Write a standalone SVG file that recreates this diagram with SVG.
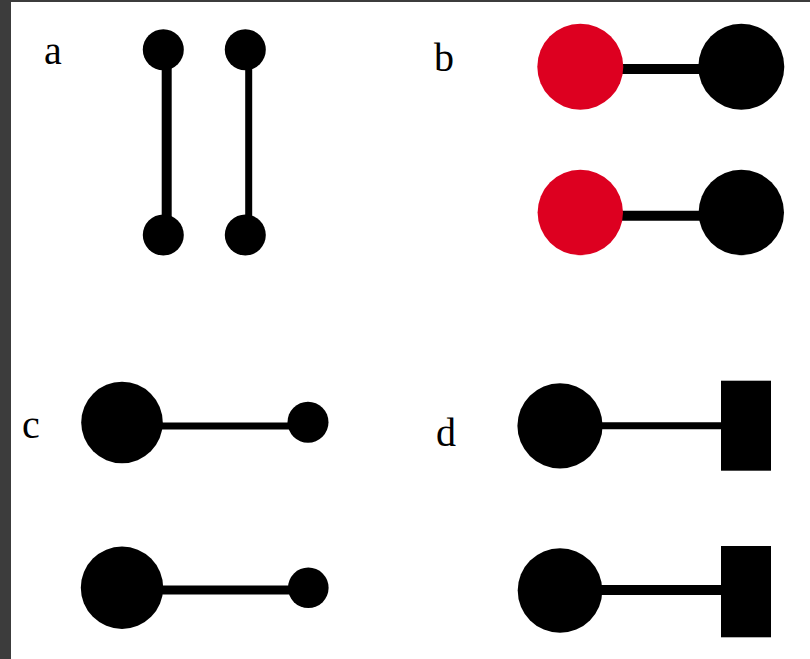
<svg xmlns="http://www.w3.org/2000/svg" width="810" height="659" viewBox="0 0 810 659">
<style>
.lbl{font-family:"Liberation Serif","Times New Roman",serif;font-size:40px;fill:#000}
.blk{fill:#000}
.red{fill:#dd0020}
.ln{stroke:#000;fill:none}
</style>
<rect x="0" y="0" width="810" height="659" fill="#ffffff"/>
<rect x="0" y="0" width="11" height="659" fill="#3c3c3c"/>
<rect x="0" y="0" width="810" height="2" fill="#3c3c3c"/>
<g id="labels">
<text class="lbl" x="44" y="64">a</text>
<text class="lbl" x="434" y="71">b</text>
<text class="lbl" x="22" y="438">c</text>
<text class="lbl" x="436" y="446">d</text>
</g>
<g id="connectors">
<line class="ln" x1="166.7" y1="66" x2="166.7" y2="218" stroke-width="10"/>
<line class="ln" x1="248.7" y1="66" x2="248.7" y2="218" stroke-width="7"/>
<line class="ln" x1="620" y1="69" x2="700" y2="69" stroke-width="10"/>
<line class="ln" x1="620" y1="215.7" x2="700" y2="215.7" stroke-width="10"/>
<line class="ln" x1="160" y1="426" x2="290" y2="426" stroke-width="7"/>
<line class="ln" x1="160" y1="590" x2="290" y2="590" stroke-width="9"/>
<line class="ln" x1="600" y1="425.7" x2="722" y2="425.7" stroke-width="7"/>
<line class="ln" x1="600" y1="590" x2="722" y2="590" stroke-width="10"/>
</g>
<g id="a-top-left"><circle class="blk" cx="163.3" cy="49.7" r="20.5"/></g>
<g id="a-bottom-left"><circle class="blk" cx="163.3" cy="235" r="20.5"/></g>
<g id="a-top-right"><circle class="blk" cx="245.3" cy="49.7" r="20.5"/></g>
<g id="a-bottom-right"><circle class="blk" cx="245.3" cy="235" r="20.5"/></g>
<g id="b-top-red"><circle class="red" cx="580.3" cy="66.7" r="43"/></g>
<g id="b-top-black"><circle class="blk" cx="741.3" cy="66.7" r="43"/></g>
<g id="b-bottom-red"><circle class="red" cx="580.3" cy="212.5" r="42.7"/></g>
<g id="b-bottom-black"><circle class="blk" cx="741.3" cy="212.5" r="42.7"/></g>
<g id="c-top-big"><circle class="blk" cx="122" cy="422.5" r="40.8"/></g>
<g id="c-top-small"><circle class="blk" cx="308" cy="422.2" r="20.5"/></g>
<g id="c-bottom-big"><circle class="blk" cx="122" cy="587.7" r="41.2"/></g>
<g id="c-bottom-small"><circle class="blk" cx="308.3" cy="587.8" r="20.3"/></g>
<g id="d-top-circle"><circle class="blk" cx="560" cy="425.8" r="42.6"/></g>
<g id="d-top-rect"><rect class="blk" x="721" y="380.7" width="50" height="90"/></g>
<g id="d-bottom-circle"><circle class="blk" cx="560" cy="590.5" r="42.3"/></g>
<g id="d-bottom-rect"><rect class="blk" x="721" y="546" width="50" height="91.3"/></g>
</svg>
